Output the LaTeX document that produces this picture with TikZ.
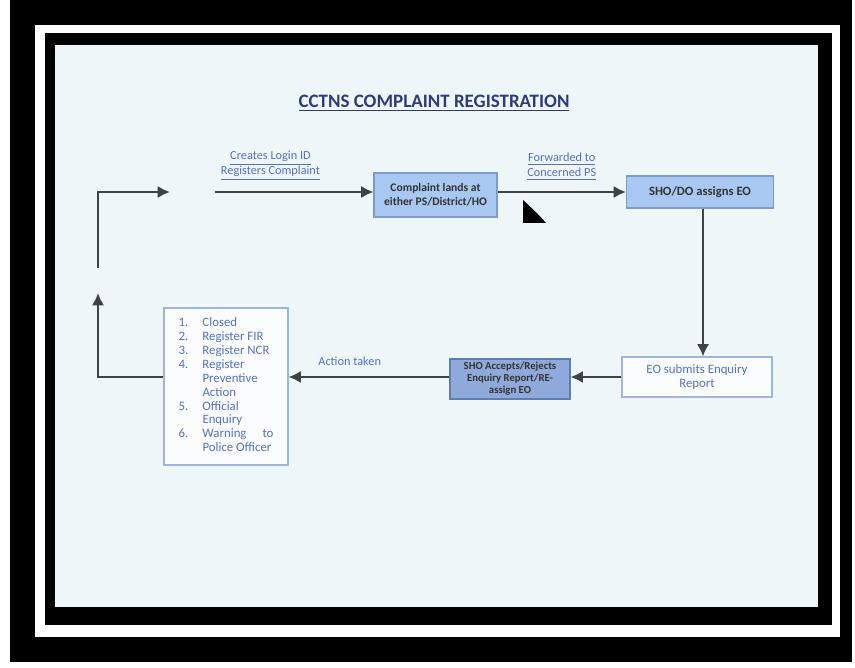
\documentclass[tikz,border=0pt]{standalone}
\usepackage{fontspec}
\setmainfont{Carlito}
\usepackage{tikz}
\usepackage{xcolor}
\usetikzlibrary{arrows.meta}

\definecolor{screen}{HTML}{EEF6F8}
\definecolor{boxblue}{HTML}{A9C8F1}
\definecolor{boxline}{HTML}{7E9CCB}
\definecolor{darkbox}{HTML}{8EA9DA}
\definecolor{darkline}{HTML}{5E7DB2}
\definecolor{paleline}{HTML}{9DB6DA}
\definecolor{textblue}{HTML}{5672BE}
\definecolor{titleblue}{HTML}{2E3C7C}
\definecolor{arrowgrey}{HTML}{3D4242}

\newcommand{\labelfont}{\fontsize{7}{8.4}\selectfont}

\begin{document}
\begin{tikzpicture}[x=0.02cm, y=-0.02cm,
    flow/.style={draw=arrowgrey, line width=1.5pt, -{Latex[length=7pt, width=7pt]}},
    lightbox/.style={draw=boxline, fill=boxblue, line width=0.6pt, align=center,
        font=\fontsize{6.6}{7.8}\selectfont\bfseries, text=black!80, inner sep=0pt},
    darkbox/.style={draw=darkline, fill=darkbox, line width=0.6pt, align=center,
        font=\fontsize{6.1}{6.9}\selectfont\bfseries, text=black!80, inner sep=0pt},
    palebox/.style={draw=paleline, fill=white!70!screen, line width=0.6pt, align=center,
        font=\fontsize{7.3}{7.9}\selectfont, text=textblue, inner sep=0pt},
    tag/.style={align=center, text=textblue, font=\labelfont, inner sep=0pt}]
        \useasboundingbox (0,0) rectangle (855,668);
        % frame
        \fill[white] (0,0) rectangle (855,668);
        \fill[black] (10,0) rectangle (852,662);
        \fill[white] (35,25) rectangle (840,637);
        \fill[black] (45,33) rectangle (832,625);
        \fill[screen] (55,45) rectangle (818,607);

        \node[text=titleblue, font=\fontsize{10.8}{12}\selectfont\bfseries] (title) at (434,103) {\underline{CCTNS COMPLAINT REGISTRATION}};

        \node[lightbox, minimum width=2.46cm, minimum height=0.88cm] (lands) at (435.5,195) {Complaint lands at\\either PS/District/HO};
        \node[lightbox, font=\fontsize{7.2}{8}\selectfont\bfseries, minimum width=2.94cm, minimum height=0.64cm] (assign) at (700,192) {SHO/DO assigns EO};
        \node[palebox, minimum width=3cm, minimum height=0.8cm] (submit) at (697,377) {EO submits Enquiry\\Report};
        \node[darkbox, minimum width=2.4cm, minimum height=0.8cm] (accept) at (510,379) {SHO Accepts/Rejects\\Enquiry Report/RE-\\assign EO};
        \node[palebox, minimum width=2.48cm, minimum height=3.14cm, align=left] (result) at (226,386.5) {%
            \begin{tabular}{@{}p{0.48cm}@{}p{1.42cm}@{}}
            1. & Closed\\
            2. & Register FIR\\
            3. & Register NCR\\
            4. & Register\\
               & Preventive\\
               & Action\\
            5. & Official\\
               & Enquiry\\
            6. & Warning\hfill to\\
               & Police Officer
            \end{tabular}};

        \coordinate (login) at (215,192);
        \coordinate (loopup) at (98,268);
        \coordinate (loopend) at (170,192);
        \coordinate (loopin) at (98,293);

        \draw[flow] (loopup) |- (loopend);
        \draw[flow] (login) -- (lands.west |- login) node[tag, pos=0.35, above=6pt] {\underline{Creates Login ID}\\\underline{Registers Complaint}};
        \draw[flow] (lands.east |- assign.west) -- (assign.west) node[tag, pos=0.5, above=6pt] {\underline{Forwarded to}\\\underline{Concerned PS}};
        \draw[flow] (assign.south -| 703,0) -- (submit.north -| 703,0);
        \draw[flow] (submit.west) -- (accept.east |- submit.west);
        \draw[flow] (accept.west |- submit.west) -- (result.east |- submit.west) node[tag, pos=0.62, above=6pt] {Action taken};
        \draw[flow] (result.west |- submit.west) -| (loopin);

        % pointer
        \fill[black] (523,200) -- (523,223) -- (546,223) .. controls (538,214) .. (523,200);
    \end{tikzpicture}
\end{document}
